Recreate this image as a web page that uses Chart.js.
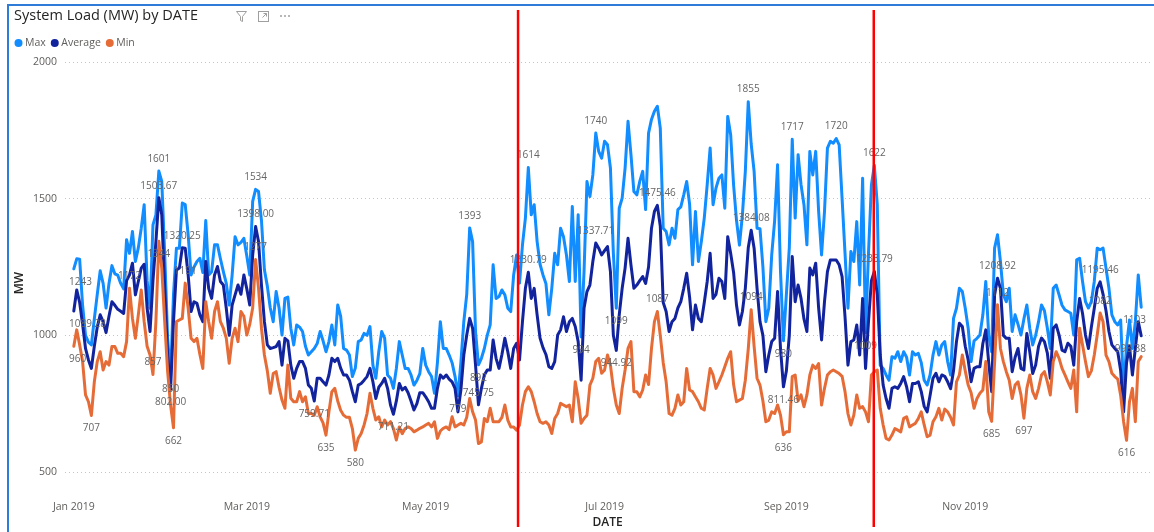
<!DOCTYPE html>
<html>
<head>
<meta charset="utf-8">
<title>System Load (MW) by DATE</title>
<script src="https://cdn.jsdelivr.net/npm/chart.js@4.4.1/dist/chart.umd.min.js"></script>
<style>
  html, body { margin: 0; padding: 0; background: #fff; }
  canvas { display: block; }
</style>
</head>
<body>
<canvas id="chart" width="1154" height="532"></canvas>
<script>
(function () {
  'use strict';

  // day index 0 = 1 Jan 2019
  var tickDays = [0, 59, 120, 181, 243, 304];
  var tickLabels = ['Jan 2019', 'Mar 2019', 'May 2019', 'Jul 2019', 'Sep 2019', 'Nov 2019'];
  var yTicks = [500, 1000, 1500, 2000];
  var seriesNames = ['Max', 'Average', 'Min'];
  var markerDays = [151.5, 272.8];

  var maxLoad = [
    1243,1280,1278,1110,1000,975,965,1060,1150,1236,
    1190,1100,1190,1255,1225,1220,1190,1170,1350,1300,
    1380,1270,1320,1392,1478,1200,1099,1404,1441,1601,
    1563,1300,989,850,1150,1319,1319,1484,1478,1368,
    1221,1250,1270,1282,1230,1420,1221,1233,1331,1331,
    1280,1233,1190,1111,1221,1361,1331,1340,1355,1290,
    1221,1490,1534,1526,1420,1240,1180,1100,1050,1160,
    1100,1001,1135,1140,1026,965,1038,1030,1014,960,
    928,940,952,970,1014,980,940,977,1038,965,
    1111,1070,952,946,928,849,880,977,983,1007,
    1000,1032,891,843,940,1014,990,855,843,806,
    879,977,928,879,879,855,818,835,860,952,
    891,867,849,788,900,1050,952,952,928,900,
    850,779,900,1050,1150,1393,1343,1014,892,916,
    952,1001,1038,1258,1135,1142,1166,1148,1099,1087,
    1221,1294,1191,1331,1429,1614,1441,1478,1343,1260,
    1221,1190,1075,1172,1300,1258,1392,1361,1294,1197,
    1471,1197,1441,994,1233,1563,1508,1587,1740,1673,
    1648,1710,1697,1612,1300,1099,1465,1502,1612,1783,
    1661,1526,1514,1563,1600,1460,1740,1790,1820,1838,
    1758,1392,1380,1331,1392,1355,1460,1470,1514,1563,
    1480,1258,1453,1270,1343,1429,1551,1685,1478,1539,
    1575,1587,1465,1801,1734,1550,1420,1330,1440,1600,
    1855,1700,1600,1392,1390,1250,1050,1099,1294,1420,
    1624,1233,980,1150,1320,1717,1429,1661,1551,1478,
    1331,1673,1587,1673,1453,1294,1453,1685,1710,1703,
    1720,1697,1500,1300,1099,1307,1270,1416,1184,1575,
    1009,1300,1550,1622,1478,891,879,855,836,922,
    916,940,904,940,920,855,940,928,934,900,
    836,818,855,928,977,928,965,977,904,855,
    1062,1099,1172,1160,1099,1026,904,980,989,1001,
    1075,1197,1000,940,1319,1368,1270,1148,1123,1172,
    1014,1075,1040,1001,1060,1111,1026,965,1000,1050,
    1111,1090,1026,952,1172,1184,1148,1110,1093,1087,
    1081,1001,1276,1282,1197,1123,1100,1123,1197,1319,
    1313,1319,1246,1172,1075,1050,1038,1056,794,960,
    1056,952,1050,1221,1103
  ];

  var avgLoad = [
    1089.28,1166,1120,1040,952,910,879,960,1030,1075,
    1050,1010,1070,1123,1110,1095,1088,1080,1200,1221,
    1264,1148,1197,1246,1260,1100,1014,1200,1343,1503.67,
    1441,1172,928,802,1050,1239,1246,1320.25,1319,1221,
    1087,1123,1117,1075,1050,1270,1172,1135,1221,1252,
    1197,1184,1099,1000,1111,1148,1184,1150,1221,1170,
    1111,1294,1398,1343,1184,1050,965,952,955,959,
    977,891,989,980,891,843,879,904,904,879,
    818,806,759.71,843,843,830,818,855,916,904,
    916,880,855,855,836,794,757,818,824,836,
    849,879,830,769,810,824,843,806,745,711.21,
    760,824,800,810,790,760,727,750,790,790,
    775,757,733,733,806,855,843,855,840,830,
    806,720,800,928,1001,1062,1026,891,745.75,806,
    855,873,873,983,916,879,930,989,940,879,
    952,971,910,1050,1172,1230.79,1135,1172,1075,990,
    955,930,885,879,904,1001,1020,1068,1014,1050,
    1062,1032,977,836,1099,1160,1184,1270,1337.71,1319,
    1294,1310,1325,1233,1000,944.92,1075,1172,1246,1355,
    1258,1172,1184,1200,1215,1190,1250,1392,1453,1475.46,
    1400,1120,1087,1014,1050,1062,1100,1123,1172,1227,
    1140,1020,1111,1062,1050,1120,1197,1300,1135,1150,
    1209,1197,1135,1361,1300,1230,1110,1038,1087,1172,
    1320,1384.08,1319,1172,1050,1000,867,928,977,989,
    1160,952,811.46,870,1000,1288,1123,1184,1135,1060,
    1014,1246,1221,1264,1100,983,1123,1233,1276,1276,
    1276,1258,1215,1068,891,977,983,1038,928,1135,
    879,1050,1200,1233.79,1148,928,818,769,733,806,
    812,806,824,849,812,757,824,824,830,794,
    740,720,780,843,861,830,855,850,830,805,
    870,977,1044,1032,960,910,830,879,885,885,
    970,1020,900,794,1148,1208.92,1172,1000,989,989,
    867,920,952,879,873,1007,940,860,891,960,
    990,977,935,843,1026,1038,1001,946,940,971,
    960,891,1050,1135,1080,1001,952,1030,1099,1172,
    1195.46,1150,1090,1014,965,952,940,870,720,900,
    960,855,952,1050,998.38
  ];

  var minLoad = [
    960,1020,965,904,782,757,707,830,904,940,
    873,904,891,959,959,934,934,922,977,1172,
    1062,989,1075,1166,1050,960,928,857,1050,1344,
    1246,1050,867,745,662,1050,1056,1062,1191,1099,
    989,977,989,930,879,1123,1050,989,1087,1123,
    1050,1026,990,898,989,1026,977,1087,1070,1001,
    1040,1100,1277,1172,1026,928,870,788,860,867,
    810,763,733,891,770,757,757,794,757,775,
    714,714,708,739,702,680,635,720,794,806,
    760,726,708,700,700,659,580,623,641,672,
    714,788,733,690,702,665,690,672,684,659,
    617,665,640,659,665,659,647,653,660,665,
    672,678,665,684,623,650,660,665,655,702,
    665,672,678,672,700,769,720,690,604,610,
    696,684,733,684,684,684,700,745,690,665,
    665,653,672,745,794,812,794,757,714,684,
    678,684,672,641,696,714,751,745,739,745,
    684,830,769,678,696,708,818,843,904,916,
    861,873,928,891,806,745,714,806,873,952,
    977,794,794,775,800,855,820,952,1050,1087,
    1000,900,830,714,708,733,782,745,757,879,
    800,794,775,757,733,727,806,879,855,806,
    830,855,885,916,940,820,757,763,769,836,
    950,1094,960,843,818,760,684,690,720,714,
    745,708,636,647,647,849,855,760,782,739,
    782,855,891,879,897,745,806,855,867,873,
    867,860,850,794,714,672,708,782,733,739,
    720,684,855,867,873,733,672,623,617,635,
    659,653,647,696,702,665,672,678,696,720,
    672,629,635,684,702,733,690,730,720,700,
    672,830,855,928,870,818,790,733,769,788,
    800,904,720,685,900,1112,952,904,867,836,
    769,818,830,782,697,806,855,794,769,806,
    855,867,830,782,904,940,916,879,855,830,
    806,873,720,1026,965,904,849,870,928,1001,
    1082,1050,928,904,861,849,840,780,684,616,
    757,806,684,904,922
  ];

  // days whose value gets a data label, split by where the label sits
  var maxLabelsAbove = [29, 62, 135, 155, 178, 230, 245, 260, 273];
  var maxLabelsBelow = [0, 33, 131, 138, 173, 185, 242, 270, 364];
  var avgLabelsAbove = [29, 37, 62, 138, 155, 178, 199, 231, 273, 315, 350];
  var avgLabelsBelow = [0, 33, 82, 109, 185, 242, 364];
  var minLabelsAbove = [19, 27, 38, 62, 199, 231, 315, 350];
  var minLabelsBelow = [0, 6, 29, 34, 86, 96, 242, 313, 324, 359];

  var COLORS = ['#118DFF', '#12239E', '#E66C37'];
  var FONT = '"Segoe UI", "Open Sans", sans-serif';
  var TEXT = '#605E5C';
  var DARK = '#252423';

  function toPoints(values) {
    return values.map(function (v, i) { return { x: i, y: v }; });
  }

  function fmt(v, decimals) {
    return decimals ? v.toFixed(2) : String(Math.round(v));
  }

  function drawSeriesLabels(chart, dsIndex, above, below, decimals) {
    var ctx = chart.ctx;
    var area = chart.chartArea;
    var meta = chart.getDatasetMeta(dsIndex);
    var values = chart.data.datasets[dsIndex].data;
    ctx.font = '10px ' + FONT;
    ctx.fillStyle = '#666666';
    ctx.textAlign = 'center';
    ctx.textBaseline = 'middle';
    function put(idx, dy) {
      var el = meta.data[idx];
      var text = fmt(values[idx].y, decimals);
      var w = ctx.measureText(text).width;
      var x = Math.max(el.x, area.left + w / 2 + 4);
      x = Math.min(x, area.right - w / 2 - 4);
      ctx.fillText(text, x, el.y + dy);
    }
    above.forEach(function (i) { put(i, -12); });
    below.forEach(function (i) { put(i, 13); });
  }

  function drawHeader(ctx) {
    ctx.save();
    // visual frame
    ctx.strokeStyle = '#2F7BD8';
    ctx.lineWidth = 2;
    ctx.beginPath();
    ctx.moveTo(8, 532);
    ctx.lineTo(8, 5);
    ctx.lineTo(1154, 5);
    ctx.stroke();

    ctx.fillStyle = DARK;
    ctx.font = '14.5px ' + FONT;
    ctx.textAlign = 'left';
    ctx.textBaseline = 'middle';
    ctx.fillText('System Load (MW) by DATE', 14, 16);

    // header icons
    ctx.strokeStyle = '#A19F9D';
    ctx.fillStyle = '#A19F9D';
    ctx.lineWidth = 1;
    ctx.beginPath();
    ctx.moveTo(236.5, 11.5);
    ctx.lineTo(246.5, 11.5);
    ctx.lineTo(242.5, 16.5);
    ctx.lineTo(242.5, 21.5);
    ctx.lineTo(240.5, 20.5);
    ctx.lineTo(240.5, 16.5);
    ctx.closePath();
    ctx.stroke();
    ctx.strokeRect(258.5, 11.5, 10, 10);
    ctx.beginPath();
    ctx.moveTo(262.5, 17.5);
    ctx.lineTo(266.5, 13.5);
    ctx.moveTo(263.5, 13.5);
    ctx.lineTo(266.5, 13.5);
    ctx.lineTo(266.5, 16.5);
    ctx.stroke();
    [281, 285, 289].forEach(function (x) {
      ctx.beginPath();
      ctx.arc(x, 16, 1, 0, Math.PI * 2);
      ctx.fill();
    });

    // legend
    ctx.font = '10.5px ' + FONT;
    var cx = 18.5;
    seriesNames.forEach(function (name, i) {
      ctx.fillStyle = COLORS[i];
      ctx.beginPath();
      ctx.arc(cx, 43, 4, 0, Math.PI * 2);
      ctx.fill();
      ctx.fillStyle = TEXT;
      ctx.fillText(name, cx + 6.5, 43);
      cx += 6.5 + ctx.measureText(name).width + 9;
    });
    ctx.restore();
  }

  var overlay = {
    id: 'overlay',
    afterDatasetsDraw: function (chart) {
      var ctx = chart.ctx;
      ctx.save();
      drawSeriesLabels(chart, 0, maxLabelsAbove, maxLabelsBelow, false);
      drawSeriesLabels(chart, 1, avgLabelsAbove, avgLabelsBelow, true);
      drawSeriesLabels(chart, 2, minLabelsAbove, minLabelsBelow, false);

      // axis titles
      ctx.fillStyle = DARK;
      ctx.font = '600 12px ' + FONT;
      ctx.textAlign = 'center';
      ctx.textBaseline = 'middle';
      ctx.fillText('DATE', (chart.chartArea.left + chart.chartArea.right) / 2, 523);
      ctx.translate(20, 283);
      ctx.rotate(-Math.PI / 2);
      ctx.fillText('MW', 0, 0);
      ctx.restore();

      // red period markers
      ctx.save();
      ctx.strokeStyle = '#FF0000';
      ctx.lineWidth = 2.5;
      markerDays.forEach(function (d) {
        var x = chart.scales.x.getPixelForValue(d);
        ctx.beginPath();
        ctx.moveTo(x, 10);
        ctx.lineTo(x, 527);
        ctx.stroke();
      });
      ctx.restore();

      drawHeader(ctx);
    }
  };

  var datasets = [maxLoad, avgLoad, minLoad].map(function (values, i) {
    return {
      label: seriesNames[i],
      data: toPoints(values),
      borderColor: COLORS[i],
      backgroundColor: COLORS[i],
      order: 3 - i
    };
  });

  new Chart(document.getElementById('chart'), {
    type: 'line',
    data: { datasets: datasets },
    plugins: [overlay],
    options: {
      responsive: false,
      animation: false,
      events: [],
      layout: { padding: { top: 62, right: 4, left: 0, bottom: 0 } },
      elements: {
        point: { radius: 0 },
        line: { borderWidth: 3, tension: 0, borderJoinStyle: 'round', borderCapStyle: 'round' }
      },
      plugins: {
        legend: { display: false },
        title: { display: false },
        tooltip: { enabled: false }
      },
      scales: {
        x: {
          type: 'linear',
          min: -3,
          max: 367,
          afterBuildTicks: function (scale) {
            scale.ticks = tickDays.map(function (v) { return { value: v }; });
          },
          afterFit: function (scale) { scale.height = 60; },
          ticks: {
            autoSkip: false,
            maxRotation: 0,
            padding: 29,
            color: TEXT,
            font: { family: FONT, size: 10.5 },
            callback: function (v, i) { return tickLabels[i]; }
          },
          grid: { display: false, drawTicks: false },
          border: { display: false }
        },
        y: {
          min: 500,
          max: 2000,
          afterBuildTicks: function (scale) {
            scale.ticks = yTicks.map(function (v) { return { value: v }; });
          },
          afterFit: function (scale) { scale.width = 65; },
          ticks: {
            padding: 8,
            color: TEXT,
            font: { family: FONT, size: 10.5 },
            callback: function (v) { return String(v); }
          },
          grid: { color: '#C8C6C4', lineWidth: 1, drawTicks: false },
          border: { display: false, dash: [1, 3] }
        }
      }
    }
  });
})();
</script>
</body>
</html>
